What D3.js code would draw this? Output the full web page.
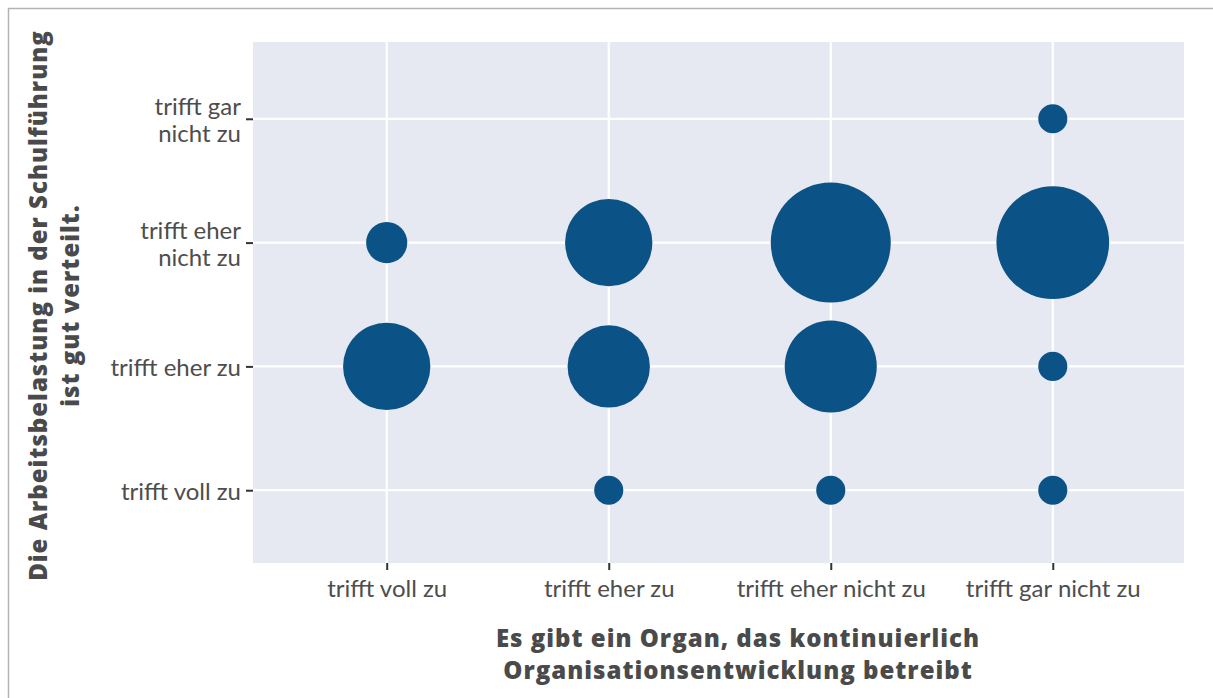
<!DOCTYPE html>
<html><head><meta charset="utf-8">
<script src="https://cdn.jsdelivr.net/npm/d3@7"></script>
<style>body{margin:0;background:#fff}</style>
</head><body>
<svg id="c" width="1213" height="698"></svg>
<script>
const xCategories = ["trifft voll zu", "trifft eher zu", "trifft eher nicht zu", "trifft gar nicht zu"];
const yCategories = ["trifft voll zu", "trifft eher zu", "trifft eher nicht zu", "trifft gar nicht zu"];
const yTickLabels = [["trifft voll zu"], ["trifft eher zu"], ["trifft eher", "nicht zu"], ["trifft gar", "nicht zu"]];
const pointX = ["trifft voll zu","trifft voll zu","trifft eher zu","trifft eher zu","trifft eher zu","trifft eher nicht zu","trifft eher nicht zu","trifft eher nicht zu","trifft gar nicht zu","trifft gar nicht zu","trifft gar nicht zu","trifft gar nicht zu"];
const pointY = ["trifft eher zu","trifft eher nicht zu","trifft voll zu","trifft eher zu","trifft eher nicht zu","trifft voll zu","trifft eher zu","trifft eher nicht zu","trifft voll zu","trifft eher zu","trifft eher nicht zu","trifft gar nicht zu"];
const pointN = [9, 2, 1, 8, 9, 1, 10, 17, 1, 1, 15, 1];
const xTitle = ["Es gibt ein Organ, das kontinuierlich", "Organisationsentwicklung betreibt"];
const yTitle = ["Die Arbeitsbelastung in der Schulführung", "ist gut verteilt."];

const svg = d3.select("#c");
const P = {l: 253, r: 1184, t: 42, b: 563};
const tickFont = "'Lato', 'Open Sans', sans-serif";
const titleFont = "'Open Sans', 'DejaVu Sans', sans-serif";
const textCol = "#4d4d4d";

svg.append("rect").attr("x", 8.5).attr("y", 8.5).attr("width", 1400).attr("height", 900)
  .attr("fill", "none").attr("stroke", "#b3b3b3").attr("stroke-width", 1.5);

const x = d3.scalePoint().domain(xCategories).range([P.l + 0.5, P.r + 2]).padding(0.6);
const y = d3.scalePoint().domain(yCategories).range([P.b + 1.5, P.t + 2.5]).padding(0.6);
const r = d3.scaleSqrt().domain([0, d3.max(pointN)]).range([0, 60]);

svg.append("rect").attr("x", P.l).attr("y", P.t).attr("width", P.r - P.l).attr("height", P.b - P.t)
  .attr("fill", "#e7e9f2");

const g = svg.append("g");
g.selectAll("line.vx").data(xCategories).join("line")
  .attr("x1", d => x(d)).attr("x2", d => x(d)).attr("y1", P.t).attr("y2", P.b)
  .attr("stroke", "#fff").attr("stroke-width", 2.2);
g.selectAll("line.hy").data(yCategories).join("line")
  .attr("y1", d => y(d)).attr("y2", d => y(d)).attr("x1", P.l).attr("x2", P.r)
  .attr("stroke", "#fff").attr("stroke-width", 2.2);

// x axis
const xa = svg.append("g").attr("transform", `translate(0,${P.b})`)
  .call(d3.axisBottom(x).tickSize(7).tickPadding(10));
xa.select(".domain").remove();
xa.selectAll(".tick line").attr("stroke", "#333").attr("stroke-width", 2);
xa.selectAll(".tick text").attr("fill", textCol).style("font-family", tickFont).style("font-size", "24px");

// y axis
const ya = svg.append("g").attr("transform", `translate(${P.l},0)`)
  .call(d3.axisLeft(y).tickSize(7).tickPadding(7).tickFormat(""));
ya.select(".domain").remove();
ya.selectAll(".tick line").attr("stroke", "#333").attr("stroke-width", 2);
ya.selectAll(".tick text").each(function(d, i) {
  const lines = yTickLabels[yCategories.indexOf(d)];
  const t = d3.select(this).attr("fill", textCol).style("font-family", tickFont).style("font-size", "24px")
    .attr("dy", null);
  const lh = 27;
  lines.forEach((ln, j) => {
    t.append("tspan").attr("x", -12).attr("y", (j - (lines.length - 1) / 2) * lh + 1).attr("dy", "0.35em").text(ln);
  });
});

// points
svg.append("g").selectAll("circle").data(pointN).join("circle")
  .attr("cx", (d, i) => x(pointX[i])).attr("cy", (d, i) => y(pointY[i])).attr("r", d => r(d))
  .attr("fill", "#0b5286");

// titles
const xt = svg.append("text").attr("text-anchor", "middle").attr("fill", "#4a4a4a")
  .style("font-family", titleFont).style("font-weight", "800").style("font-size", "24px")
  .style("letter-spacing", "1px");
xTitle.forEach((ln, j) => xt.append("tspan").attr("x", 738).attr("y", 647 + j * 32).text(ln));

const yt = svg.append("text").attr("text-anchor", "middle").attr("fill", "#4a4a4a")
  .attr("transform", `translate(0,${(P.t + P.b) / 2 + 3}) rotate(-90)`)
  .style("font-family", titleFont).style("font-weight", "800").style("font-size", "24px")
  .style("letter-spacing", "1px");
yTitle.forEach((ln, j) => yt.append("tspan").attr("x", 0).attr("y", 47 + j * 32).text(ln));
</script>
</body></html>
